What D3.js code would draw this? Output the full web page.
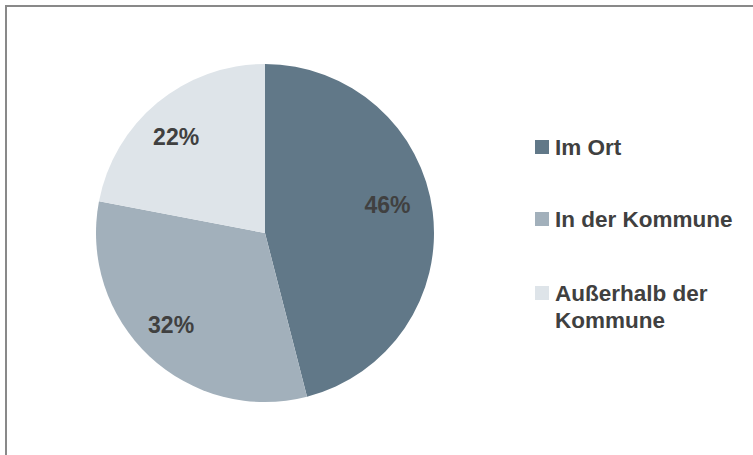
<!DOCTYPE html>
<html>
<head>
<meta charset="utf-8">
<script src="https://cdn.jsdelivr.net/npm/d3@7"></script>
<style>
  html, body { margin: 0; padding: 0; background: #fff; }
  svg { display: block; }
</style>
</head>
<body>
<svg id="chart" width="753" height="455"></svg>
<script>
// Where purchases are made: share by location
const categories = ["Im Ort", "In der Kommune", "Außerhalb der Kommune"];
const legendLines = [["Im Ort"], ["In der Kommune"], ["Außerhalb der", "Kommune"]];
const shares = [46, 32, 22];
const sliceColors = ["#617888", "#a2b0bb", "#dee4e9"];

const svg = d3.select("#chart");
const W = 753, H = 455;
const textColor = "#404040";
const fontFamily = "'Liberation Sans', Arial, sans-serif";

// Frame around the chart area (runs past the right and bottom edges)
svg.append("rect")
  .attr("x", 6).attr("y", 6)
  .attr("width", W + 10).attr("height", H + 10)
  .attr("fill", "none")
  .attr("stroke", "#898989")
  .attr("stroke-width", 2);

const cx = 265, cy = 233, radius = 169;

const color = d3.scaleOrdinal().domain(categories).range(sliceColors);

const data = categories.map((c, i) => ({ category: c, value: shares[i] }));

const pie = d3.pie().value(d => d.value).sort(null);
const arcs = pie(data);
const arc = d3.arc().innerRadius(0).outerRadius(radius);
const labelArc = d3.arc().innerRadius(radius * 0.76).outerRadius(radius * 0.76);

// "best fit" style nudges for the in-slice labels
const labelNudge = [[-5, -12], [-6, -2], [-7, 3]];

const g = svg.append("g").attr("transform", `translate(${cx},${cy})`);

g.selectAll("path.slice")
  .data(arcs)
  .join("path")
  .attr("class", "slice")
  .attr("d", arc)
  .attr("fill", d => color(d.data.category));

// Percentage labels inside the slices
g.selectAll("text.pct")
  .data(arcs)
  .join("text")
  .attr("class", "pct")
  .attr("x", (d, i) => labelArc.centroid(d)[0] + labelNudge[i][0])
  .attr("y", (d, i) => labelArc.centroid(d)[1] + labelNudge[i][1] + 8)
  .attr("text-anchor", "middle")
  .attr("font-family", fontFamily)
  .attr("font-weight", "bold")
  .attr("font-size", 23)
  .attr("fill", textColor)
  .text(d => d.data.value + "%");

// Legend
const legendX = 535;
const legendBaselines = [155, 227, 301];
const legend = svg.append("g");

categories.forEach((c, i) => {
  const base = legendBaselines[i];
  legend.append("rect")
    .attr("x", legendX)
    .attr("y", base - 15)
    .attr("width", 14)
    .attr("height", 14)
    .attr("fill", color(c));
  const t = legend.append("text")
    .attr("font-family", fontFamily)
    .attr("font-weight", "bold")
    .attr("font-size", 22.5)
    .attr("fill", textColor);
  legendLines[i].forEach((line, j) => {
    t.append("tspan")
      .attr("x", legendX + 20)
      .attr("y", base + j * 27)
      .text(line);
  });
});
</script>
</body>
</html>
